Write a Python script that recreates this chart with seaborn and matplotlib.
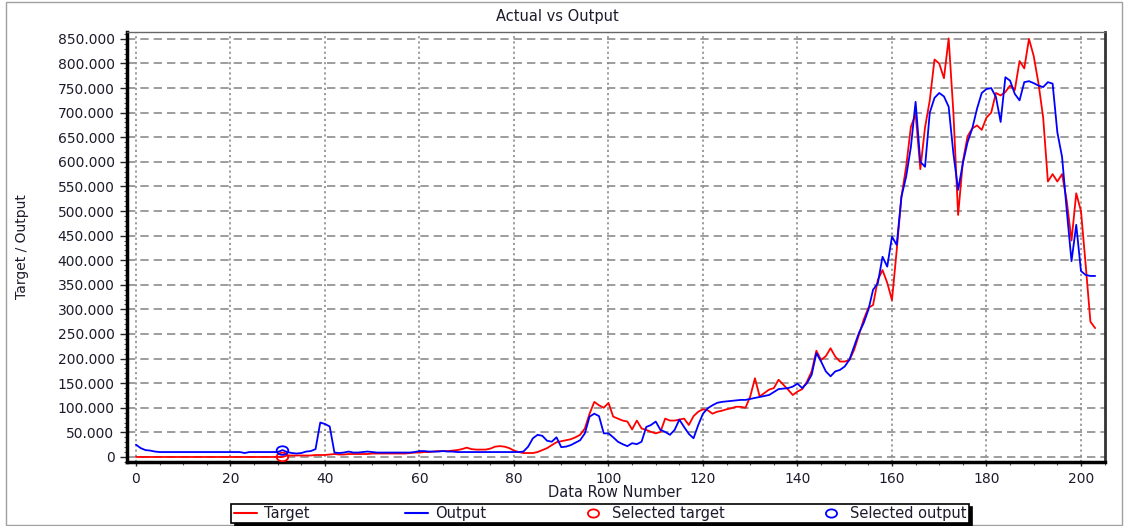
import numpy as np
import pandas as pd
import matplotlib
matplotlib.use("Agg")
import matplotlib.pyplot as plt
import seaborn as sns
from matplotlib.lines import Line2D
from matplotlib.patches import Rectangle
from matplotlib.path import Path
from matplotlib.transforms import Affine2D
from matplotlib.ticker import MultipleLocator

# values, one per data row (0..203)
target = [
    0, 0, 0, 0, 0, 0, 0, 0, 0, 0, 0, 0, 0, 0, 0, 0, 0, 0, 0, 0,
    0, 0, 0, 0, 0, 0, 0, 0, 0, 0, 0, 0, 3, 3, 3, 3, 3, 3, 4, 4,
    4, 5, 6, 5, 5, 6, 6, 6, 6, 6, 7, 7, 7, 7, 7, 7, 7, 7, 8, 9,
    9, 10, 10, 11, 12, 12, 12, 13, 14, 16, 19, 16, 15, 15, 15, 17, 21, 22, 21, 18,
    13, 10, 8, 8, 8, 10, 14, 18, 24, 30, 32, 34, 36, 40, 45, 58, 88, 112, 105, 100,
    110, 82, 78, 74, 72, 56, 74, 58, 55, 51, 48, 51, 78, 74, 74, 76, 78, 65, 83, 92,
    97, 95, 88, 92, 94, 97, 99, 102, 102, 100, 123, 160, 123, 130, 137, 140, 157, 147, 137, 126,
    133, 138, 153, 174, 216, 197, 205, 221, 204, 194, 194, 197, 218, 248, 279, 303, 309, 360, 380, 354,
    319, 420, 529, 590, 671, 698, 585, 670, 725, 808, 800, 770, 851, 700, 492, 600, 652, 668, 674, 665,
    690, 700, 740, 735, 742, 755, 746, 805, 790, 850, 815, 760, 690, 560, 575, 560, 575, 520, 440, 536,
    500, 390, 275, 262,
]
output = [
    25, 18, 14, 13, 11, 10, 10, 10, 10, 10, 10, 10, 10, 10, 10, 10, 10, 10, 10, 10,
    10, 10, 10, 8, 10, 10, 10, 10, 10, 10, 10, 14, 10, 8, 7, 8, 11, 12, 16, 70,
    67, 62, 9, 8, 9, 11, 9, 9, 10, 11, 10, 9, 9, 9, 9, 9, 9, 9, 9, 10,
    12, 12, 11, 11, 11, 12, 11, 11, 10, 10, 10, 10, 10, 10, 10, 10, 10, 10, 10, 10,
    10, 10, 11, 21, 38, 45, 43, 33, 31, 40, 20, 21, 24, 29, 34, 48, 82, 88, 83, 48,
    48, 40, 31, 26, 22, 28, 26, 31, 61, 65, 72, 55, 51, 45, 55, 76, 61, 47, 38, 65,
    88, 99, 105, 110, 112, 113, 114, 115, 116, 116, 118, 120, 122, 124, 126, 132, 138, 139, 140, 143,
    149, 140, 150, 167, 211, 194, 174, 164, 174, 177, 184, 198, 225, 252, 272, 299, 340, 353, 407, 387,
    448, 431, 529, 570, 630, 722, 600, 590, 700, 730, 740, 733, 712, 617, 543, 597, 640, 668, 708, 740,
    748, 750, 732, 681, 772, 765, 738, 725, 762, 764, 760, 755, 752, 762, 759, 660, 610, 500, 398, 472,
    378, 370, 368, 368,
]

selected_row = [31]
selected_target = [0]
selected_output = [13]

x_ticks = [0, 20, 40, 60, 80, 100, 120, 140, 160, 180, 200]
y_ticks = [0, 50, 100, 150, 200, 250, 300, 350, 400, 450, 500, 550, 600, 650, 700, 750, 800, 850]
y_tick_labels = ["0" if v == 0 else f"{v:.3f}" for v in y_ticks]

df = pd.DataFrame({"Row": np.arange(len(target)), "Target": target, "Output": output})
sel = pd.DataFrame({"Row": selected_row, "Target": selected_target, "Output": selected_output})

sns.set_style("white")
plt.rcParams["font.family"] = ["DejaVu Sans"]

fig = plt.figure(figsize=(11.29, 5.26), dpi=100)
ax = fig.add_axes([0.1125, 0.1217, 0.8663, 0.8175])

# horizontally squashed circle, like the selection markers
ell = Path.unit_circle().transformed(Affine2D().scale(1.35, 1.0))

sns.lineplot(data=df, x="Row", y="Target", color="#ff0000", lw=1.3, estimator=None, ax=ax)
sns.lineplot(data=df, x="Row", y="Output", color="#0000ff", lw=1.3, estimator=None, ax=ax)
sns.scatterplot(data=sel, x="Row", y="Target", marker=ell, s=70, color="red",
                facecolor="none", edgecolor="red", linewidth=1.3, ax=ax, zorder=5)
sns.scatterplot(data=sel, x="Row", y="Output", marker=ell, s=70, color="blue",
                facecolor="none", edgecolor="blue", linewidth=1.3, ax=ax, zorder=5)

ax.set_xlim(-1.9, 205.1)
ax.set_ylim(-10.2, 864)
ax.set_xticks(x_ticks)
ax.set_yticks(y_ticks)
ax.set_yticklabels(y_tick_labels)
ax.xaxis.set_minor_locator(MultipleLocator(5))
ax.yaxis.set_minor_locator(MultipleLocator(10))

ax.grid(axis="y", which="major", color="#8c8c8c", linestyle=(0, (5, 3)), linewidth=1.2)
ax.grid(axis="x", which="major", color="#8c8c8c", linestyle=(0, (1.3, 1.8)), linewidth=1.2)

ax.tick_params(axis="both", which="major", bottom=True, left=True, direction="out",
               length=5, width=1, labelsize=10, labelcolor="#1c1c2c")
ax.tick_params(axis="y", which="major", pad=4)
ax.tick_params(axis="x", which="major", length=3, pad=4)
ax.tick_params(axis="both", which="minor", bottom=True, left=True, direction="out",
               length=2.5, width=0.8, color="#555555")

for side, lw, col in [("left", 2.5, "black"), ("bottom", 2.5, "black"),
                      ("top", 1.0, "#666666"), ("right", 2.0, "#333333")]:
    ax.spines[side].set_linewidth(lw)
    ax.spines[side].set_color(col)

ax.set_xlabel("Data Row Number", fontsize=10.5, color="#1c1c2c")
ax.set_ylabel("Target / Output", fontsize=10, color="#1c1c2c")
ax.xaxis.set_label_coords(0.499, -0.070)
ax.xaxis.label.set_va("center")
ax.yaxis.set_label_coords(-0.107, 0.5)
ax.yaxis.label.set_va("center")

fig.text(557 / 1129, 1 - 16 / 526, "Actual vs Output", ha="center", va="center",
         fontsize=10.5, color="#1c1c2c")

handles = [
    Line2D([0], [0], color="#ff0000", lw=1.5),
    Line2D([0], [0], color="#0000ff", lw=1.5),
    Line2D([0], [0], ls="none", marker=ell, markersize=8, mfc="none", mec="#ff0000", mew=1.3),
    Line2D([0], [0], ls="none", marker=ell, markersize=8, mfc="none", mec="#0000ff", mew=1.3),
]
labels = ["Target", "Output", "Selected target", "Selected output"]
leg = fig.legend(handles, labels, loc="center", bbox_to_anchor=(600 / 1129, 1 - 513.5 / 526),
                 ncol=4, frameon=True, fancybox=False, edgecolor="black", framealpha=1,
                 fontsize=10.5, handlelength=1.6, handletextpad=0.5, columnspacing=6.5,
                 borderpad=0.15, borderaxespad=0,
                 shadow={"ox": 2.5, "oy": -2.5, "color": "black", "alpha": 1})
leg.get_frame().set_linewidth(1.2)
for t in leg.get_texts():
    t.set_color("#1c1c2c")

# thin frame round the whole picture
fig.patches.append(Rectangle((6 / 1129, 0.002), 1116 / 1129, 0.995, transform=fig.transFigure,
                             fill=False, edgecolor="#a0a0a0", lw=1))

fig.savefig("out.png", dpi=100)
